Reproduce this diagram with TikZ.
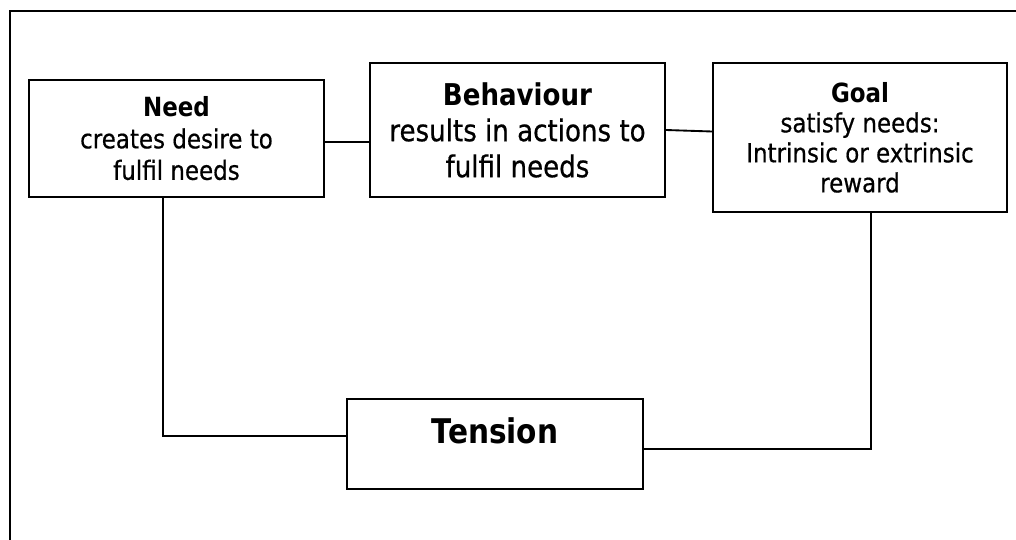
\documentclass[tikz,border=0pt]{standalone}
\usepackage{fontspec}
\setmainfont[FakeStretch=0.87,UprightFeatures={FakeBold=0.6}]{DejaVu Sans}
\begin{document}
\begin{tikzpicture}[x=0.75pt,y=-0.75pt,
  box/.style={draw=black,line width=1.4pt,rectangle,inner sep=0pt,align=center},
  wire/.style={draw=black,line width=1.4pt},
  smalltext/.style={font=\fontsize{19.8pt}{23.6pt}\selectfont},
  midtext/.style={font=\fontsize{22.5pt}{27pt}\selectfont},
  goaltext/.style={font=\fontsize{19.8pt}{22.5pt}\selectfont},
  bigtext/.style={font=\fontsize{25.5pt}{30pt}\selectfont\bfseries}]
\useasboundingbox (0,0) rectangle (1016,539);
\clip (0,0) rectangle (1016,539);
% outer frame
\draw[line width=1.4pt] (10,560) -- (10,11) -- (1040,11);
% boxes
\node[box,smalltext,minimum width=221.25pt,minimum height=87.75pt] (need) at (176.5,138.5)
  {\textbf{Need}\\creates desire to\\fulfil needs};
\node[box,midtext,minimum width=221.25pt,minimum height=100.5pt] (beh) at (517.5,130)
  {\textbf{Behaviour}\\results in actions to\\fulfil needs};
\node[box,goaltext,minimum width=220.5pt,minimum height=111.75pt] (goal) at (860,137.5)
  {\textbf{Goal}\\satisfy needs:\\Intrinsic or extrinsic\\reward};
\node[box,minimum width=222pt,minimum height=67.5pt] (tension) at (495,444) {};
\node[bigtext] (tensionlabel) at ([yshift=10pt]tension.center) {Tension};
% connectors
\coordinate (nb) at ([yshift=-2.6pt]need.east);
\draw[wire] (nb) -- (nb -| beh.west);
\draw[wire] (beh.east) -- ([yshift=4.5pt]goal.west);
\draw[wire] ([xshift=-10.1pt]need.south) |- ([yshift=6pt]tension.west);
\draw[wire] ([xshift=8.25pt]goal.south) |- ([yshift=-3.75pt]tension.east);
\end{tikzpicture}
\end{document}
